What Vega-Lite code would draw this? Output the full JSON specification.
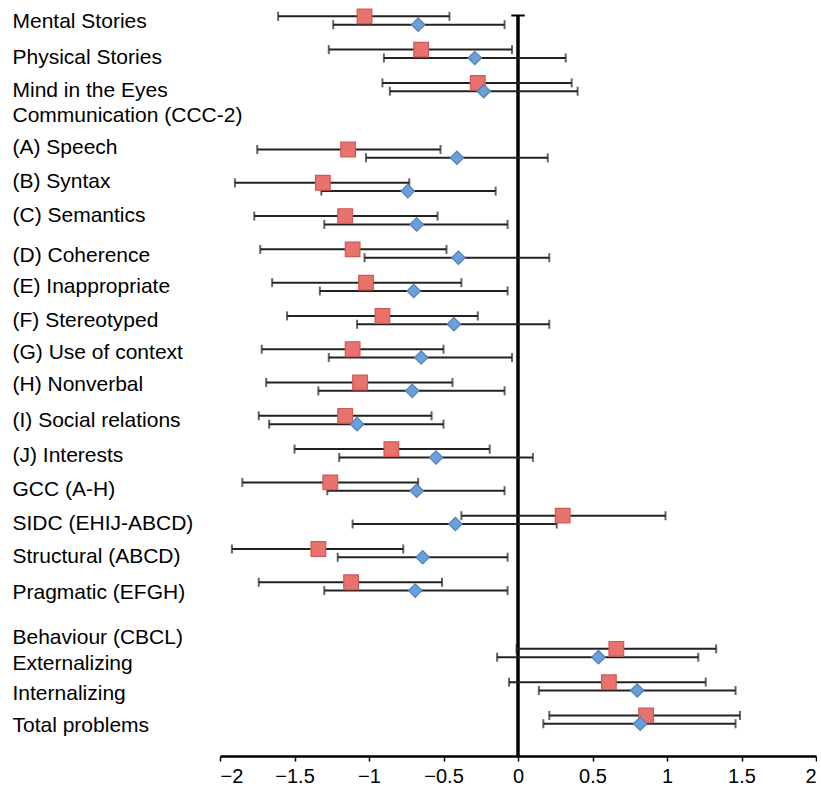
{
  "$schema": "https://vega.github.io/schema/vega-lite/v6.json",
  "width": 596,
  "height": 756,
  "padding": {"left": 12, "top": 0, "right": 0, "bottom": 0},
  "config": {"view": {"stroke": null}, "font": "Liberation Sans"},
  "data": {"values": [
    {"label": "Mental Stories", "series": "S1", "est": -1.03, "lo": -1.61, "hi": -0.46},
    {"label": "Mental Stories", "series": "S2", "est": -0.67, "lo": -1.24, "hi": -0.09},
    {"label": "Physical Stories", "series": "S1", "est": -0.65, "lo": -1.27, "hi": -0.04},
    {"label": "Physical Stories", "series": "S2", "est": -0.29, "lo": -0.90, "hi": 0.32},
    {"label": "Mind in the Eyes", "series": "S1", "est": -0.27, "lo": -0.91, "hi": 0.36},
    {"label": "Mind in the Eyes", "series": "S2", "est": -0.23, "lo": -0.86, "hi": 0.40},
    {"label": "(A) Speech", "series": "S1", "est": -1.14, "lo": -1.75, "hi": -0.52},
    {"label": "(A) Speech", "series": "S2", "est": -0.41, "lo": -1.02, "hi": 0.20},
    {"label": "(B) Syntax", "series": "S1", "est": -1.31, "lo": -1.90, "hi": -0.73},
    {"label": "(B) Syntax", "series": "S2", "est": -0.74, "lo": -1.32, "hi": -0.15},
    {"label": "(C) Semantics", "series": "S1", "est": -1.16, "lo": -1.77, "hi": -0.54},
    {"label": "(C) Semantics", "series": "S2", "est": -0.68, "lo": -1.30, "hi": -0.07},
    {"label": "(D) Coherence", "series": "S1", "est": -1.11, "lo": -1.73, "hi": -0.48},
    {"label": "(D) Coherence", "series": "S2", "est": -0.40, "lo": -1.03, "hi": 0.21},
    {"label": "(E) Inappropriate", "series": "S1", "est": -1.02, "lo": -1.65, "hi": -0.38},
    {"label": "(E) Inappropriate", "series": "S2", "est": -0.70, "lo": -1.33, "hi": -0.07},
    {"label": "(F) Stereotyped", "series": "S1", "est": -0.91, "lo": -1.55, "hi": -0.27},
    {"label": "(F) Stereotyped", "series": "S2", "est": -0.43, "lo": -1.08, "hi": 0.21},
    {"label": "(G) Use of context", "series": "S1", "est": -1.11, "lo": -1.72, "hi": -0.50},
    {"label": "(G) Use of context", "series": "S2", "est": -0.65, "lo": -1.27, "hi": -0.04},
    {"label": "(H) Nonverbal", "series": "S1", "est": -1.06, "lo": -1.69, "hi": -0.44},
    {"label": "(H) Nonverbal", "series": "S2", "est": -0.71, "lo": -1.34, "hi": -0.09},
    {"label": "(I) Social relations", "series": "S1", "est": -1.16, "lo": -1.74, "hi": -0.58},
    {"label": "(I) Social relations", "series": "S2", "est": -1.08, "lo": -1.67, "hi": -0.50},
    {"label": "(J) Interests", "series": "S1", "est": -0.85, "lo": -1.50, "hi": -0.19},
    {"label": "(J) Interests", "series": "S2", "est": -0.55, "lo": -1.20, "hi": 0.10},
    {"label": "GCC (A-H)", "series": "S1", "est": -1.26, "lo": -1.85, "hi": -0.67},
    {"label": "GCC (A-H)", "series": "S2", "est": -0.68, "lo": -1.28, "hi": -0.09},
    {"label": "SIDC (EHIJ-ABCD)", "series": "S1", "est": 0.30, "lo": -0.38, "hi": 0.99},
    {"label": "SIDC (EHIJ-ABCD)", "series": "S2", "est": -0.42, "lo": -1.11, "hi": 0.26},
    {"label": "Structural (ABCD)", "series": "S1", "est": -1.34, "lo": -1.92, "hi": -0.77},
    {"label": "Structural (ABCD)", "series": "S2", "est": -0.64, "lo": -1.21, "hi": -0.07},
    {"label": "Pragmatic (EFGH)", "series": "S1", "est": -1.12, "lo": -1.74, "hi": -0.51},
    {"label": "Pragmatic (EFGH)", "series": "S2", "est": -0.69, "lo": -1.30, "hi": -0.07},
    {"label": "Externalizing", "series": "S1", "est": 0.66, "lo": -0.01, "hi": 1.33},
    {"label": "Externalizing", "series": "S2", "est": 0.54, "lo": -0.14, "hi": 1.21},
    {"label": "Internalizing", "series": "S1", "est": 0.61, "lo": -0.06, "hi": 1.26},
    {"label": "Internalizing", "series": "S2", "est": 0.80, "lo": 0.14, "hi": 1.46},
    {"label": "Total problems", "series": "S1", "est": 0.86, "lo": 0.21, "hi": 1.49},
    {"label": "Total problems", "series": "S2", "est": 0.82, "lo": 0.17, "hi": 1.46}
  ]},
  "encoding": {
    "y": {
      "field": "label", "type": "nominal", "title": null,
      "scale": {
        "domain": ["Mental Stories", "Physical Stories", "Mind in the Eyes", "Communication (CCC-2)", "(A) Speech", "(B) Syntax", "(C) Semantics", "(D) Coherence", "(E) Inappropriate", "(F) Stereotyped", "(G) Use of context", "(H) Nonverbal", "(I) Social relations", "(J) Interests", "GCC (A-H)", "SIDC (EHIJ-ABCD)", "Structural (ABCD)", "Pragmatic (EFGH)", "Behaviour (CBCL)", "Externalizing", "Internalizing", "Total problems"],
        "paddingInner": 0, "paddingOuter": 0.3545, "align": 0.163
      },
      "axis": {
        "domain": false, "ticks": false, "grid": false,
        "labelAlign": "left", "labelPadding": 208, "labelLimit": 400,
        "labelFontSize": 21, "labelColor": "#000", "labelFont": "Liberation Sans",
        "labelOffset": {
          "condition": [
            {"test": "datum.value === 'Physical Stories' || datum.value === 'Mind in the Eyes' || datum.value === 'SIDC (EHIJ-ABCD)' || datum.value === 'Structural (ABCD)'", "value": 4},
            {"test": "datum.value === 'Communication (CCC-2)' || datum.value === '(C) Semantics'", "value": -4},
            {"test": "datum.value === '(A) Speech'", "value": -6},
            {"test": "datum.value === '(B) Syntax'", "value": -5},
            {"test": "datum.value === '(E) Inappropriate' || datum.value === '(G) Use of context'", "value": 0},
            {"test": "datum.value === '(F) Stereotyped' || datum.value === '(I) Social relations'", "value": 1},
            {"test": "datum.value === '(H) Nonverbal'", "value": -2},
            {"test": "datum.value === '(J) Interests' || datum.value === 'GCC (A-H)'", "value": 3},
            {"test": "datum.value === 'Pragmatic (EFGH)'", "value": 7},
            {"test": "datum.value === 'Behaviour (CBCL)'", "value": 18},
            {"test": "datum.value === 'Externalizing'", "value": 11},
            {"test": "datum.value === 'Internalizing'", "value": 8},
            {"test": "datum.value === 'Total problems'", "value": 6}
          ],
          "value": 2
        }
      }
    }
  },
  "layer": [
    {
      "data": {"values": [{}]},
      "mark": {"type": "rule", "color": "#000", "strokeWidth": 3.5},
      "encoding": {
        "x": {"datum": 0, "type": "quantitative"},
        "y": {"datum": "Mental Stories", "type": "nominal", "bandPosition": 0.35},
        "y2": {"value": "height"}
      }
    },
    {
      "data": {"values": [{}]},
      "mark": {"type": "rule", "color": "#000", "strokeWidth": 2},
      "encoding": {
        "x": {"datum": -0.045, "type": "quantitative"},
        "x2": {"datum": 0.045},
        "y": {"datum": "Mental Stories", "type": "nominal", "bandPosition": 0.35}
      }
    },
    {
      "mark": {"type": "rule", "color": "#222", "strokeWidth": 2},
      "encoding": {
        "x": {"field": "lo", "type": "quantitative"},
        "x2": {"field": "hi"},
        "yOffset": {"field": "series", "type": "nominal", "scale": {"paddingInner": 0, "paddingOuter": 1.378}}
      }
    },
    {
      "mark": {"type": "tick", "color": "#222", "thickness": 2, "size": 9, "orient": "vertical"},
      "encoding": {
        "x": {"field": "lo", "type": "quantitative"},
        "yOffset": {"field": "series", "type": "nominal"}
      }
    },
    {
      "mark": {"type": "tick", "color": "#222", "thickness": 2, "size": 9, "orient": "vertical"},
      "encoding": {
        "x": {"field": "hi", "type": "quantitative"},
        "yOffset": {"field": "series", "type": "nominal"}
      }
    },
    {
      "mark": {"type": "point", "filled": true, "opacity": 1, "strokeWidth": 1.2},
      "encoding": {
        "x": {
          "field": "est", "type": "quantitative", "title": null,
          "scale": {"domain": [-2, 2], "nice": false, "zero": false},
          "axis": {
            "values": [-2, -1.5, -1, -0.5, 0, 0.5, 1, 1.5, 2], "format": "~g",
            "grid": false, "domainColor": "#000", "domainWidth": 2.5,
            "tickColor": "#000", "tickWidth": 1.5, "tickSize": 5,
            "labelFontSize": 20, "labelColor": "#000", "labelPadding": 5, "labelFont": "Liberation Sans"
          }
        },
        "yOffset": {"field": "series", "type": "nominal"},
        "shape": {"field": "series", "type": "nominal", "scale": {"domain": ["S1", "S2"], "range": ["square", "diamond"]}, "legend": null},
        "size": {"field": "series", "type": "nominal", "scale": {"domain": ["S1", "S2"], "range": [215, 180]}, "legend": null},
        "fill": {"field": "series", "type": "nominal", "scale": {"domain": ["S1", "S2"], "range": ["#e8726d", "#6a9fd8"]}, "legend": null},
        "stroke": {"field": "series", "type": "nominal", "scale": {"domain": ["S1", "S2"], "range": ["#cf5a55", "#4f81bd"]}, "legend": null}
      }
    }
  ]
}
